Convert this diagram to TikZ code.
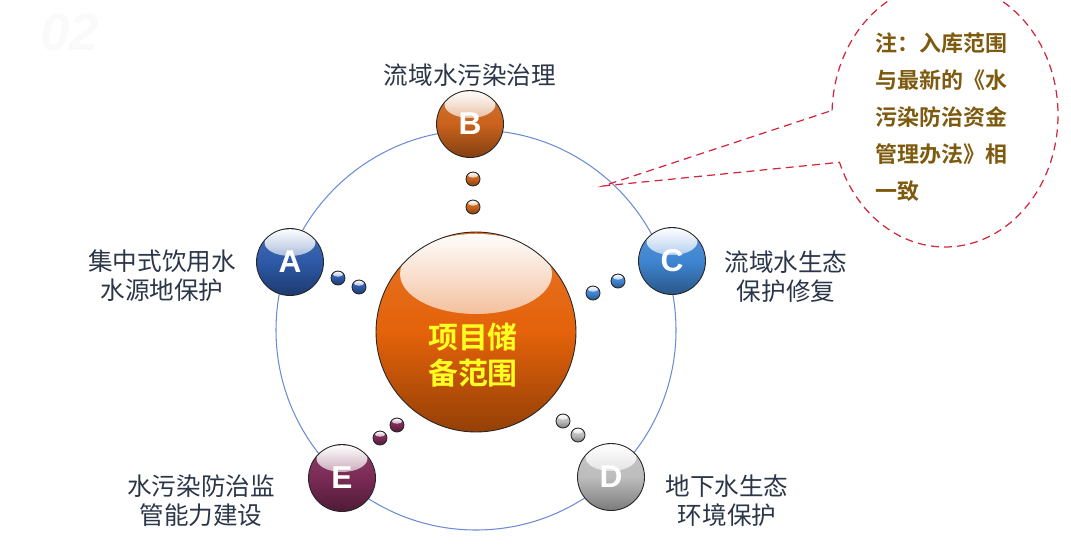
\documentclass[tikz,border=0pt]{standalone}
\usepackage{fontspec}
\usetikzlibrary{calc, fadings}
\newfontfamily\cjk{Noto Sans CJK SC}[BoldFont={Noto Sans CJK SC Bold}]
\newfontfamily\letterfont{Liberation Sans}
\definecolor{ringblue}{HTML}{6D8CD6}
\definecolor{labelgray}{HTML}{2B3648}
\definecolor{notebrown}{HTML}{7D5A0E}
\definecolor{notered}{HTML}{D3263C}
\definecolor{coreorange}{HTML}{E4620A}
\definecolor{coreyellow}{HTML}{FFFF22}
\definecolor{ballA}{HTML}{2D59A8}
\definecolor{ballB}{HTML}{C9621C}
\definecolor{ballC}{HTML}{3F85D2}
\definecolor{ballD}{HTML}{BDBDBD}
\definecolor{ballE}{HTML}{7A2A55}
\tikzfading[name=glossfade, top color=transparent!0, bottom color=transparent!100]

\begin{document}
\begin{tikzpicture}[
    x=0.02cm, y=-0.02cm,
    glossball/.style 2 args={circle, draw=black!85, line width=0.5pt, inner sep=0pt,
        minimum size=#2, top color=#1!88!white, bottom color=#1!65!black, middle color=#1,
        path picture={\fill[white, path fading=glossfade]
            ($(path picture bounding box.center)!0.58!(path picture bounding box.north)$)
            ellipse [x radius=0.38*#2, y radius=0.2*#2];}},
    letterball/.style={glossball={#1}{1.34cm}, text=white,
        font=\letterfont\bfseries\fontsize{18}{18}\selectfont},
    dotball/.style={glossball={#1}{0.28cm}},
    labeltext/.style={text=labelgray, align=center, inner sep=0pt,
        font=\cjk\fontsize{14}{16.5}\selectfont},
    notetext/.style={text=notebrown, align=left, inner sep=0pt,
        font=\cjk\bfseries\fontsize{12.5}{21}\selectfont},
    coretext/.style={text=coreyellow, align=center, inner sep=0pt,
        font=\cjk\bfseries\fontsize{17}{20}\selectfont},
    ringline/.style={draw=ringblue, line width=0.6pt},
    notedash/.style={draw=notered, line width=0.7pt, dash pattern=on 4.5pt off 3pt},
    ]
    \useasboundingbox (0,0) rectangle (1071,549);

    % faint page number
    \node[text=black!2, inner sep=0pt, font=\letterfont\bfseries\itshape\fontsize{30}{30}\selectfont] (pagemark) at (70,32) {02};

    % orbit
    \coordinate (hub) at (476,330);
    \draw[ringline] (hub) circle [radius=200];

    % callout
    \coordinate (notecenter) at (945,115);
    \coordinate (tip) at (603,186);
    \draw[notedash] ($(notecenter)+(182:113 and 132)$)
        arc [start angle=182, end angle=519, x radius=113, y radius=132]
        -- (tip) -- cycle;
    \node[notetext, anchor=west] (note) at (875,117)
        {注：入库范围\\与最新的《水\\污染防治资金\\管理办法》相\\一致};

    % centre
    \node[glossball={coreorange}{4cm}] (core) at (476,332) {};
    \node[coretext] (corelabel) at (473,355) {项目储\\备范围};

    % satellites
    \node[letterball=ballA] (ballA) at (290,262) {A};
    \node[letterball=ballB] (ballB) at (470,124) {B};
    \node[letterball=ballC] (ballC) at (672,261) {C};
    \node[letterball=ballD] (ballD) at (611,477) {D};
    \node[letterball=ballE] (ballE) at (342,478) {E};

    \node[dotball=ballA] (dotA1) at (338,278) {};
    \node[dotball=ballA] (dotA2) at (359,287) {};
    \node[dotball=ballB] (dotB1) at (473,179) {};
    \node[dotball=ballB] (dotB2) at (473,207) {};
    \node[dotball=ballC] (dotC1) at (618,281) {};
    \node[dotball=ballC] (dotC2) at (593,293) {};
    \node[dotball=ballD] (dotD1) at (563,421) {};
    \node[dotball=ballD] (dotD2) at (578,435) {};
    \node[dotball=ballE] (dotE1) at (397,425) {};
    \node[dotball=ballE] (dotE2) at (380,438) {};

    % labels
    \node[labeltext] (labA) at (162,276) {集中式饮用水\\水源地保护};
    \node[labeltext] (labB) at (470,75) {流域水污染治理};
    \node[labeltext] (labC) at (786,277) {流域水生态\\保护修复};
    \node[labeltext] (labD) at (727,501) {地下水生态\\环境保护};
    \node[labeltext] (labE) at (201,501) {水污染防治监\\管能力建设};
\end{tikzpicture}
\end{document}
